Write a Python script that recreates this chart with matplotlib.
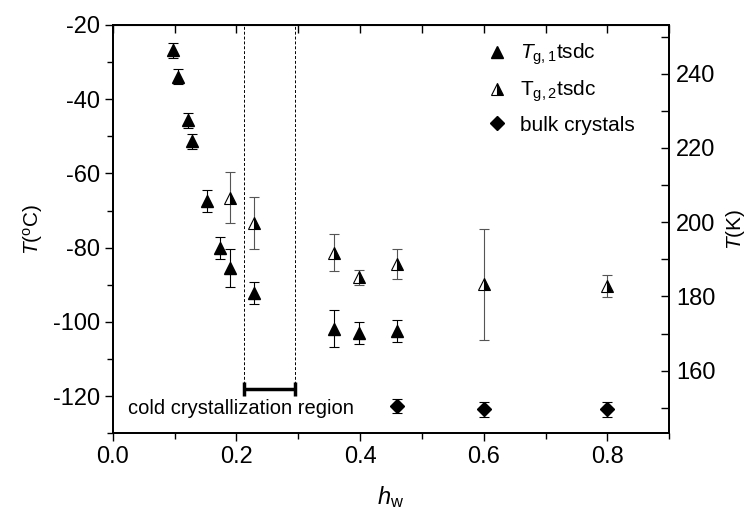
import matplotlib
matplotlib.use('Agg')
import matplotlib.pyplot as plt
from matplotlib.ticker import MultipleLocator, FormatStrFormatter
from matplotlib.lines import Line2D

plt.rcParams['font.family'] = ['Liberation Sans', 'DejaVu Sans']
plt.rcParams['mathtext.fontset'] = 'custom'
plt.rcParams['mathtext.rm'] = 'Liberation Sans'
plt.rcParams['mathtext.it'] = 'Liberation Sans:italic'
plt.rcParams['axes.unicode_minus'] = False

# T_g,1 from tsdc (filled triangles)
hw_tg1 = [0.097, 0.105, 0.121, 0.128, 0.153, 0.173, 0.190, 0.228, 0.358, 0.398, 0.460]
tg1 = [-26.8, -33.9, -45.7, -51.4, -67.5, -80.1, -85.5, -92.3, -101.9, -103.0, -102.5]
tg1_err = [2, 2, 2, 2, 3, 3, 5, 3, 5, 3, 3]

# T_g,2 from tsdc (half-filled triangles)
hw_tg2 = [0.190, 0.228, 0.358, 0.398, 0.460, 0.600, 0.800]
tg2 = [-66.5, -73.4, -81.4, -88.0, -84.4, -89.9, -90.3]
tg2_err = [7, 7, 5, 2, 4, 15, 3]

# bulk crystals (diamonds)
hw_bulk = [0.460, 0.600, 0.800]
bulk = [-122.7, -123.6, -123.6]
bulk_err = [2, 2, 2]

# cold crystallization region
cc_lo, cc_hi, cc_y = 0.212, 0.295, -118.2

fig = plt.figure(figsize=(7.52, 5.2), dpi=100)
ax = fig.add_axes([0.150, 0.167, 0.740, 0.785])

ax.errorbar(hw_tg1, tg1, yerr=tg1_err, fmt='^', color='black', ms=9,
            ecolor='black', elinewidth=0.8, capsize=3.5, capthick=0.8, zorder=3)
ax.errorbar(hw_tg2, tg2, yerr=tg2_err, fmt='^', color='black', ms=9,
            fillstyle='right', markerfacecoloralt='white', mec='black', mew=0.8,
            ecolor='#555555', elinewidth=0.8, capsize=3.5, capthick=0.8, zorder=3)
ax.errorbar(hw_bulk, bulk, yerr=bulk_err, fmt='D', color='black', ms=7,
            ecolor='black', elinewidth=0.8, capsize=3.5, capthick=0.8, zorder=3)

# cold crystallization region: dashed borders down to the bar
ax.vlines([cc_lo, cc_hi], cc_y, -20, colors='black', linestyles=(0, (3, 2)), lw=0.7)
ax.errorbar([(cc_lo + cc_hi) / 2], [cc_y], xerr=[(cc_hi - cc_lo) / 2], fmt='none',
            ecolor='black', elinewidth=2.5, capsize=5, capthick=2.5)
ax.text(0.024, -123.3, 'cold crystallization region', fontsize=14.5, va='center')

ax.set_xlim(0, 0.9)
ax.set_ylim(-130, -20)
ax.xaxis.set_major_locator(MultipleLocator(0.2))
ax.xaxis.set_minor_locator(MultipleLocator(0.1))
ax.yaxis.set_major_locator(MultipleLocator(20))
ax.yaxis.set_minor_locator(MultipleLocator(10))
ax.xaxis.set_major_formatter(FormatStrFormatter('%.1f'))
ax.tick_params(axis='both', which='major', labelsize=17, length=6, width=1,
               direction='out', pad=3)
ax.tick_params(axis='both', which='minor', length=4, width=1, direction='out')
ax.tick_params(axis='x', which='both', top=False)
for sp in ax.spines.values():
    sp.set_linewidth(1.3)

# top axis ticks point inward
axt = ax.secondary_xaxis('top')
axt.xaxis.set_major_locator(MultipleLocator(0.1))
axt.tick_params(axis='x', which='major', direction='in', length=6, width=1,
                labeltop=False)

ax.set_xlabel(r'$h_{\mathrm{w}}$', fontsize=17, labelpad=12)
ax.set_ylabel(r'$T$($^{\mathrm{o}}$C)', fontsize=15, labelpad=6)

ax2 = ax.twinx()
ax2.set_ylim(-130 + 273.15, -20 + 273.15)
ax2.yaxis.set_major_locator(MultipleLocator(20))
ax2.yaxis.set_minor_locator(MultipleLocator(10))
ax2.tick_params(axis='y', which='major', labelsize=17, length=6, width=1,
                direction='in', pad=5)
ax2.tick_params(axis='y', which='minor', length=6, width=1, direction='in')
ax2.set_ylabel(r'$T$(K)', fontsize=15, labelpad=6)
for sp in ax2.spines.values():
    sp.set_linewidth(1.3)

handles = [
    Line2D([], [], ls='none', marker='^', color='black', ms=9),
    Line2D([], [], ls='none', marker='^', color='black', ms=9, fillstyle='right',
           markerfacecoloralt='white', mew=0.8),
    Line2D([], [], ls='none', marker='D', color='black', ms=7),
]
labels = [r'$T_{\mathrm{g,1}}$tsdc', r'T$_{\mathrm{g,2}}$tsdc', 'bulk crystals']
ax.legend(handles, labels, loc='upper left', bbox_to_anchor=(0.635, 1.005),
          frameon=False, fontsize=15, handletextpad=0.5, labelspacing=0.55,
          handlelength=1.2)

fig.savefig('out.png', dpi=100)
